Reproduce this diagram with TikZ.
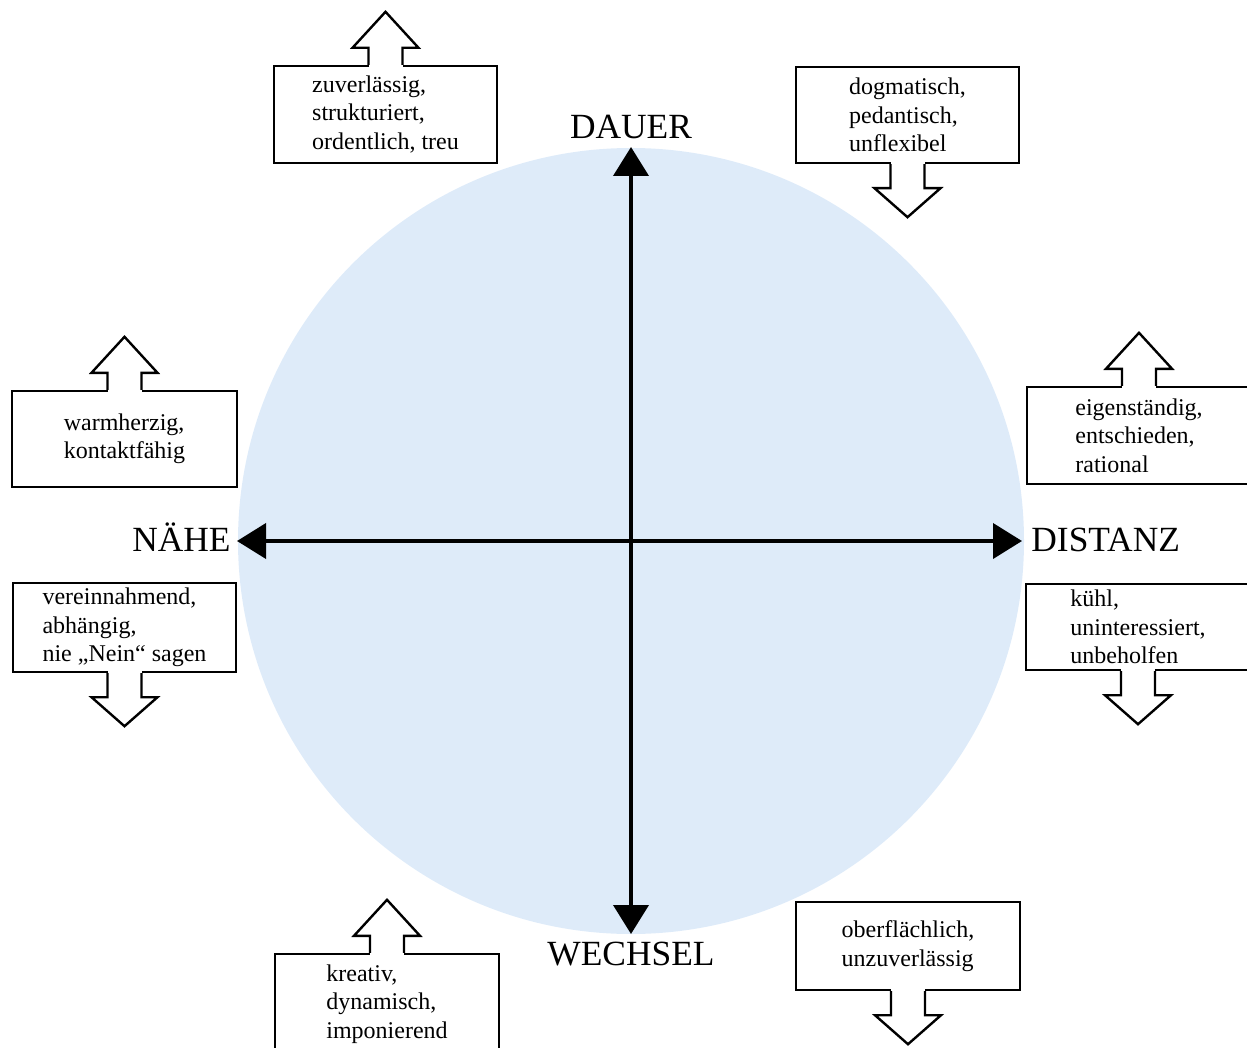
\documentclass[tikz,border=0pt]{standalone}
\usepackage{fontspec}
\setmainfont{Liberation Serif}
\usetikzlibrary{arrows.meta,calc,positioning}
\definecolor{circleblue}{RGB}{222,235,249}
\tikzset{trait/.style={draw, line width=1.2pt, fill=white, align=left, inner sep=0pt, minimum width=112pt, font=\fontsize{12}{14.2}\selectfont}}
\tikzset{axis/.style={line width=2pt, -{Triangle[length=14.5pt,width=17.5pt]}}}
\tikzset{pole/.style={inner sep=0pt, font=\fontsize{17.7}{20}\selectfont}}
\newcommand{\traitup}[1]{%
  \fill[white] ($(#1.north)+(-8.5pt,-1pt)$) rectangle ($(#1.north)+(8.5pt,1pt)$);
  \draw[line width=1.2pt] ($(#1.north)+(-8.5pt,0)$) -- ++(0,8.5pt) -- ++(-8pt,0)
    -- ($(#1.north)+(0,26.5pt)$) -- ($(#1.north)+(16.5pt,8.5pt)$) -- ++(-8pt,0) -- ++(0,-8.5pt);
}
\newcommand{\traitdown}[1]{%
  \fill[white] ($(#1.south)+(-8.5pt,-1pt)$) rectangle ($(#1.south)+(8.5pt,1pt)$);
  \draw[line width=1.2pt] ($(#1.south)+(-8.5pt,0)$) -- ++(0,-12pt) -- ++(-8pt,0)
    -- ($(#1.south)+(0,-26.5pt)$) -- ($(#1.south)+(16.5pt,-12pt)$) -- ++(-8pt,0) -- ++(0,12pt);
}

\begin{document}
\begin{tikzpicture}[x=0.5pt, y=-0.5pt]
    \clip (0, 0) rectangle (1247, 1048);
    \coordinate (c) at (631, 541);
    \fill [circleblue] (c) circle [radius=196.5pt];

    \coordinate (dauer) at (631, 147);
    \coordinate (wechsel) at (631, 934);
    \coordinate (naehe) at (237, 541);
    \coordinate (distanz) at (1022, 541);
    \draw [axis] (c) -- (dauer);
    \draw [axis] (c) -- (wechsel);
    \draw [axis] (c) -- (naehe);
    \draw [axis] (c) -- (distanz);
    \node [pole, above=4pt of dauer] {DAUER};
    \node [pole, below=4pt of wechsel] {WECHSEL};
    \node [pole, anchor=base east] at ($(naehe)+(-6, 10)$) {NÄHE};
    \node [pole, anchor=base west] at ($(distanz)+(9, 10)$) {DISTANZ};

    \node [trait, minimum width=111.5pt, minimum height=48.5pt] (zuverl) at (385.5, 114.5) {zuverlässig,\\strukturiert,\\ordentlich, treu};
    \node [trait, minimum width=111.5pt, minimum height=48pt] (dogm) at (907.5, 115) {dogmatisch,\\pedantisch,\\unflexibel};
    \node [trait, minimum width=112.5pt, minimum height=48pt] (warm) at (124.5, 439) {warmherzig,\\kontaktfähig};
    \node [trait, minimum height=48.5pt] (eigen) at (1139, 435.5) {eigenständig,\\entschieden,\\rational};
    \node [trait, minimum width=111.5pt, minimum height=44.5pt] (verein) at (124.5, 627.5) {vereinnahmend,\\abhängig,\\nie „Nein“ sagen};
    \node [trait, minimum height=43pt] (kuehl) at (1138, 627) {kühl,\\uninteressiert,\\unbeholfen};
    \node [trait, minimum height=50pt] (kreativ) at (387, 1004) {kreativ,\\dynamisch,\\imponierend};
    \node [trait, minimum height=44pt] (oberfl) at (908, 946) {oberflächlich,\\unzuverlässig};

    \traitup{zuverl}
    \traitdown{dogm}
    \traitup{warm}
    \traitup{eigen}
    \traitdown{verein}
    \traitdown{kuehl}
    \traitup{kreativ}
    \traitdown{oberfl}
\end{tikzpicture}
\end{document}
